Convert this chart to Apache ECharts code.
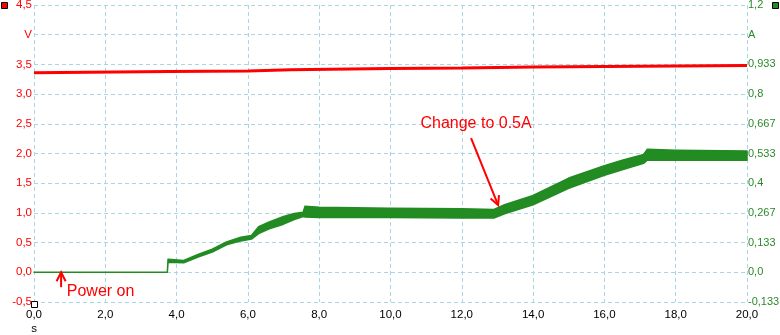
<!DOCTYPE html>
<html><head><meta charset="utf-8">
<script src="https://cdn.jsdelivr.net/npm/echarts@6/dist/echarts.min.js"></script>
<style>html,body{margin:0;padding:0;background:#fff}#c{width:780px;height:335px}</style>
</head><body><div id="c"></div>
<script>
// Voltage (V)
const voltTime = [0, 3.8, 6, 7.2, 10, 12, 14, 16, 18, 20];
const voltValue = [3.36, 3.38, 3.39, 3.41, 3.43, 3.44, 3.455, 3.465, 3.475, 3.48];
// Current (A): lower/upper envelope of the noisy trace
const curTime = [0, 3.74, 3.76, 4.2, 4.6, 5.0, 5.4, 5.8, 6.1, 6.3, 6.6, 7.0, 7.3, 7.55, 7.6, 8.0, 10.0, 12.0, 12.9, 13.2, 14.0, 15.0, 16.0, 16.5, 17.1, 17.2, 18.0, 20.0];
const curLow  = [0, 0, 0.045, 0.043, 0.069, 0.091, 0.123, 0.141, 0.149, 0.174, 0.195, 0.216, 0.237, 0.250, 0.248, 0.246, 0.246, 0.244, 0.244, 0.263, 0.303, 0.377, 0.436, 0.460, 0.489, 0.503, 0.503, 0.503];
const curHigh = [0, 0, 0.059, 0.053, 0.080, 0.104, 0.136, 0.157, 0.165, 0.205, 0.226, 0.251, 0.264, 0.270, 0.296, 0.292, 0.288, 0.285, 0.282, 0.303, 0.345, 0.423, 0.479, 0.503, 0.529, 0.552, 0.548, 0.545];
// Axis settings
const xTicks = {min: 0, max: 20, interval: 2};
const vTicks = {min: -0.5, max: 4.5, interval: 0.5};
const aTicks = {min: -2/15, max: 1.2, interval: 2/15};
const annotations = [
  {text: 'Power on', tip: [0.76, 0], tail: [0.76, -0.25], textAt: [0.92, -0.33]},
  {text: 'Change to 0.5A', tip: [13.02, 1.13], tail: [12.26, 2.26], textAt: [12.4, 2.5]}
];

const RED = '#ff0000', GREEN = '#228b22', GRIDC = '#a9d6e5';
const FONT = 'Liberation Sans, Arial, sans-serif';
function fmtNum(v, dec) {
  let r = Math.round(v * Math.pow(10, dec)) / Math.pow(10, dec);
  if (Math.abs(r) < 1e-9) r = 0;
  let s = r.toString();
  if (s.indexOf('.') < 0) s += '.0';
  return s.replace('.', ',');
}
const chart = echarts.init(document.getElementById('c'), null, {renderer: 'canvas'});
const splitLine = {show: true, lineStyle: {color: GRIDC, type: [4, 3], width: 1}};
chart.setOption({
  animation: false,
  backgroundColor: '#fff',
  grid: {left: 34, right: 33, top: 5, bottom: 33, containLabel: false, outerBoundsMode: 'none'},
  xAxis: {
    type: 'value', min: xTicks.min, max: xTicks.max, interval: xTicks.interval,
    axisLine: {show: false}, axisTick: {show: false}, splitLine: splitLine,
    axisLabel: {color: '#000', fontFamily: FONT, fontSize: 11.5, margin: 6, lineHeight: 14,
      formatter: v => Math.abs(v) < 1e-9 ? '0,0\ns' : fmtNum(v, 1)}
  },
  yAxis: [
    {type: 'value', min: vTicks.min, max: vTicks.max, interval: vTicks.interval,
     axisLine: {show: false}, axisTick: {show: false}, splitLine: splitLine,
     axisLabel: {color: RED, fontFamily: FONT, fontSize: 11.5, margin: 2,
       formatter: v => Math.abs(v - 4) < 1e-6 ? 'V' : fmtNum(v, 1)}},
    {type: 'value', min: aTicks.min, max: aTicks.max, interval: aTicks.interval, position: 'right',
     axisLine: {show: false}, axisTick: {show: false}, splitLine: {show: false},
     axisLabel: {color: '#2a8a2a', fontFamily: FONT, fontSize: 11, margin: 1,
       formatter: v => Math.abs(v - 16/15) < 1e-6 ? 'A' : fmtNum(v, 3)}}
  ],
  series: [
    {type: 'custom', yAxisIndex: 1, silent: true, clip: false, z: 2,
     encode: {x: 0, y: [1, 2]},
     data: curTime.map((t, i) => [t, curLow[i], curHigh[i]]),
     renderItem: function (params, api) {
       if (params.dataIndex !== 0) return null;
       const pts = [];
       for (let i = 0; i < curTime.length; i++) pts.push(api.coord([curTime[i], curHigh[i]]));
       for (let i = curTime.length - 1; i >= 0; i--) pts.push(api.coord([curTime[i], curLow[i]]));
       return {type: 'polygon', shape: {points: pts},
         style: {fill: GREEN, stroke: GREEN, lineWidth: 1.5, lineJoin: 'round'}};
     }},
    {type: 'line', yAxisIndex: 0, showSymbol: false, silent: true,
     lineStyle: {color: RED, width: 3}, z: 3,
     data: voltTime.map((t, i) => [t, voltValue[i]])}
  ]
});

function px(p) { return chart.convertToPixel({xAxisIndex: 0, yAxisIndex: 0}, p); }
const g = [];
annotations.forEach(a => {
  const tip = px(a.tip), tail = px(a.tail), tp = px(a.textAt);
  const dx = tip[0] - tail[0], dy = tip[1] - tail[1];
  const L = Math.sqrt(dx * dx + dy * dy), ux = dx / L, uy = dy / L;
  const hl = 9, hw = 4.5;
  const bx = tip[0] - ux * hl, by = tip[1] - uy * hl;
  g.push({type: 'line', shape: {x1: tail[0], y1: tail[1], x2: tip[0] - ux * 2, y2: tip[1] - uy * 2},
    style: {stroke: RED, lineWidth: 2}, z: 10});
  g.push({type: 'polyline', shape: {points: [[bx - uy * hw, by + ux * hw], tip, [bx + uy * hw, by - ux * hw]]},
    style: {stroke: RED, lineWidth: 2, fill: null}, z: 10});
  const isLeft = a.text === 'Power on';
  g.push({type: 'text', x: tp[0], y: tp[1], z: 10,
    style: {text: a.text, fill: RED, font: '16px ' + FONT, align: isLeft ? 'left' : 'center', verticalAlign: 'middle'}});
});
// legend markers
g.push({type: 'rect', shape: {x: 1.5, y: 2.5, width: 6, height: 6}, style: {fill: RED, stroke: '#000', lineWidth: 1}, z: 10});
g.push({type: 'rect', shape: {x: 772.5, y: 2.5, width: 6, height: 6}, style: {fill: GREEN, stroke: '#000', lineWidth: 1}, z: 10});
g.push({type: 'rect', shape: {x: 31.5, y: 301.5, width: 6, height: 6}, style: {fill: '#fff', stroke: '#000', lineWidth: 1}, z: 10});
chart.setOption({graphic: g});
</script>
</body></html>
